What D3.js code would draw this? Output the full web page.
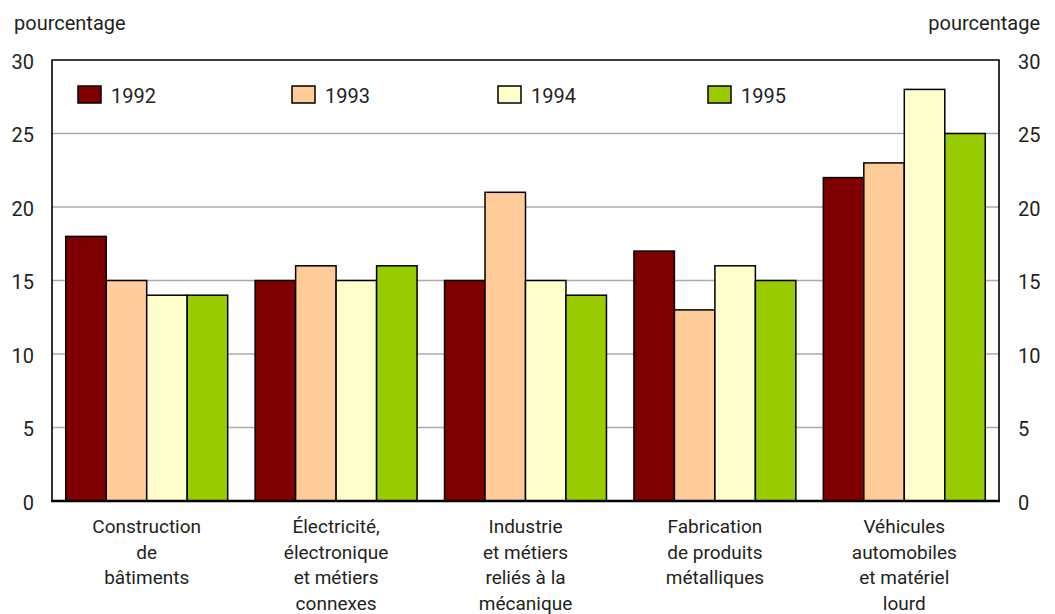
<!DOCTYPE html>
<html><head><meta charset="utf-8">
<script src="https://cdn.jsdelivr.net/npm/d3@7"></script>
<style>
body{margin:0;background:#fff;}
text{font-family:Roboto,"Liberation Sans",Arial,sans-serif;fill:#231f20;}
</style></head>
<body><svg id="c" width="1055" height="614"></svg>
<script>
const categories = [
  ["Construction","de","bâtiments"],
  ["Électricité,","électronique","et métiers","connexes"],
  ["Industrie","et métiers","reliés à la","mécanique"],
  ["Fabrication","de produits","métalliques"],
  ["Véhicules","automobiles","et matériel","lourd"]
];
const years = ["1992","1993","1994","1995"];
const colors = ["#800000","#FFCC99","#FFFFCC","#99CC00"];
const v1992 = [18,15,15,17,22];
const v1993 = [15,16,21,13,23];
const v1994 = [14,15,15,16,28];
const v1995 = [14,16,14,15,25];
const series = [v1992,v1993,v1994,v1995];
const yTicks = [0,5,10,15,20,25,30];

const svg = d3.select("#c");
const L=52, R=999, T=60, B=501;
const x0 = d3.scaleBand().domain(d3.range(categories.length)).range([L,R]).paddingInner(0.145).paddingOuter(0.0725);
const x1 = d3.scaleBand().domain(d3.range(years.length)).range([0,x0.bandwidth()]);
const y = d3.scaleLinear().domain([0,30]).range([B,T]);

// gridlines
svg.append("g").selectAll("line").data(yTicks.filter(d=>d>0&&d<30)).join("line")
  .attr("x1",L).attr("x2",R).attr("y1",d=>y(d)).attr("y2",d=>y(d))
  .attr("stroke","#aaaaaa").attr("stroke-width",1.5);

// bars
const g = svg.append("g");
categories.forEach((c,i)=>{
  series.forEach((s,j)=>{
    g.append("rect").attr("x",x0(i)+x1(j)).attr("y",y(s[i]))
      .attr("width",x1.bandwidth()).attr("height",y(0)-y(s[i]))
      .attr("fill",colors[j]).attr("stroke","#000").attr("stroke-width",1.5);
  });
});

// frame
svg.append("path").attr("d",`M${L},${B}V${T}H${R}V${B}`).attr("fill","none").attr("stroke","#000").attr("stroke-width",1.6);
svg.append("line").attr("x1",L-1).attr("x2",R+1).attr("y1",B).attr("y2",B).attr("stroke","#000").attr("stroke-width",2.5);

// axes
const fs = 20;
const yl = d3.axisLeft(y).tickValues(yTicks).tickSize(0).tickPadding(18);
const ga = svg.append("g").attr("transform",`translate(${L},0)`).call(yl);
ga.select(".domain").remove();
ga.selectAll("text").attr("font-size",fs).attr("dy","0.42em").style("font-family",null);
const yr = d3.axisRight(y).tickValues(yTicks).tickSize(0).tickPadding(19);
const gb = svg.append("g").attr("transform",`translate(${R},0)`).call(yr);
gb.select(".domain").remove();
gb.selectAll("text").attr("font-size",fs).attr("dy","0.42em").style("font-family",null);

svg.append("text").attr("x",14).attr("y",30).attr("font-size",fs).text("pourcentage");
svg.append("text").attr("x",1040).attr("y",30).attr("font-size",fs).attr("text-anchor","end").text("pourcentage");

// category labels
categories.forEach((c,i)=>{
  const cx = x0(i)+x0.bandwidth()/2;
  const t = svg.append("text").attr("x",cx).attr("y",533).attr("text-anchor","middle").attr("font-size",19);
  c.forEach((line,k)=>t.append("tspan").attr("x",cx).attr("dy",k===0?0:25.5).text(line));
});

// legend
const lx = [78,292,498,708];
years.forEach((yv,j)=>{
  svg.append("rect").attr("x",lx[j]).attr("y",86).attr("width",23).attr("height",17)
    .attr("fill",colors[j]).attr("stroke","#000").attr("stroke-width",1.5);
  svg.append("text").attr("x",lx[j]+33).attr("y",103).attr("font-size",fs).text(yv);
});
</script></body></html>
